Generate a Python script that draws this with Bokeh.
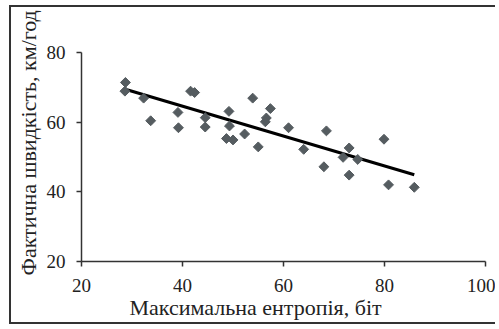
import math
from bokeh.plotting import figure
from bokeh.models import Range1d, FixedTicker, Title
from bokeh.embed import file_html
from bokeh.resources import INLINE

entropy = [28.7, 28.6, 32.3, 33.7, 39.1, 39.2, 41.6, 42.4, 44.5, 44.5, 49.2, 49.3,
           48.7, 50.0, 52.3, 53.9, 57.4, 56.6, 56.4, 55.0, 61.0, 68.5, 64.0, 68.0,
           73.0, 71.8, 74.7, 73.0, 79.9, 80.8, 85.9]
speed = [71.4, 68.9, 66.9, 60.4, 62.8, 58.4, 68.9, 68.5, 61.3, 58.6, 63.1, 58.9,
         55.3, 54.9, 56.6, 66.9, 63.9, 61.2, 60.1, 52.9, 58.4, 57.5, 52.2, 47.2,
         52.6, 49.9, 49.3, 44.8, 55.1, 42.0, 41.3]
trend_x = [29.0, 85.9]
trend_y = [69.3, 44.9]
x_ticks = [20, 40, 60, 80, 100]
y_ticks = [20, 40, 60, 80]
x_title = "Максимальна ентропія, біт"
y_title = "Фактична швидкість, км/год"

FONT = "Liberation Serif"
INK = "#222"

p = figure(width=486, height=319, output_backend="svg", toolbar_location=None,
           x_range=Range1d(20, 100), y_range=Range1d(20, 80),
           min_border_left=70, min_border_right=12, min_border_top=45, min_border_bottom=65)
p.styles = {"border-left": "2px solid #333", "border-top": "2px solid #333",
            "border-bottom": "2px solid #333", "margin-left": "9px", "margin-top": "5px"}
p.outline_line_color = None
p.grid.visible = False

p.line(trend_x, trend_y, line_color="black", line_width=3)
p.scatter(entropy, speed, marker="square", angle=math.pi / 4, size=7,
          fill_color="#555c60", line_color="#555c60")

for ax in (p.xaxis[0], p.yaxis[0]):
    ax.axis_line_color = "#333"
    ax.axis_line_width = 1.5
    ax.major_tick_line_color = "#333"
    ax.major_tick_line_width = 1.5
    ax.major_tick_in = 0
    ax.major_tick_out = 5
    ax.minor_tick_line_color = None
    ax.major_label_text_font = FONT
    ax.major_label_text_font_size = "19px"
    ax.major_label_text_font_style = "normal"
    ax.major_label_text_color = INK

p.xaxis.ticker = FixedTicker(ticks=x_ticks)
p.yaxis.ticker = FixedTicker(ticks=y_ticks)
p.xaxis.major_label_standoff = 12
p.yaxis.major_label_standoff = 11

xt = Title(text=x_title, align="left", offset=48, vertical_align="top", standoff=0,
           text_font=FONT, text_font_size="22px", text_font_style="normal", text_color=INK)
yt = Title(text=y_title, align="left", offset=-14, vertical_align="top", standoff=2,
           text_font=FONT, text_font_size="22px", text_font_style="normal", text_color=INK)
p.add_layout(xt, "below")
p.add_layout(yt, "left")

open("out.html", "w").write(file_html(p, INLINE))
